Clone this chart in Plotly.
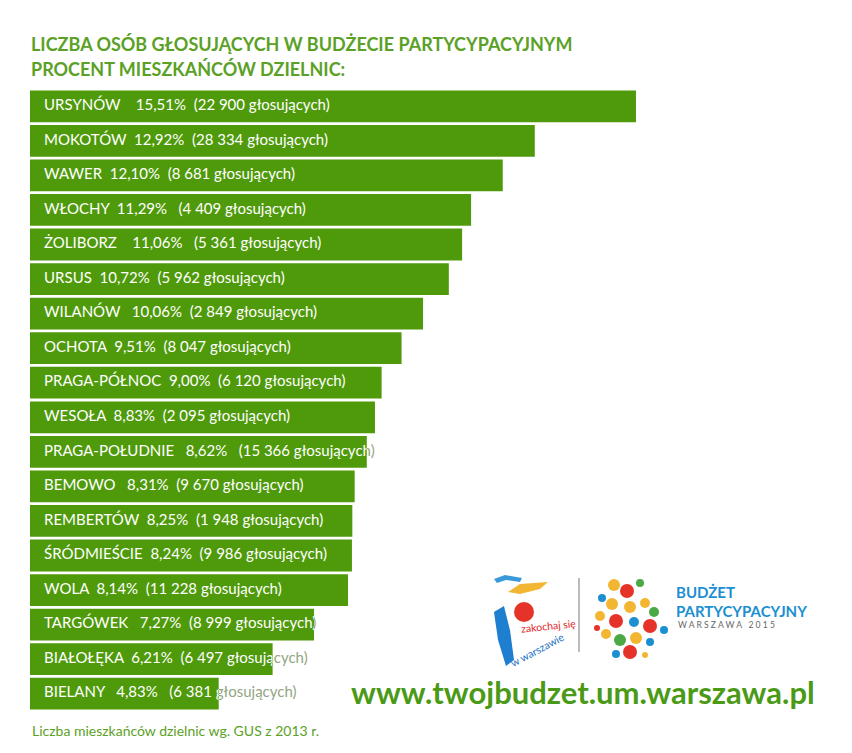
import plotly.graph_objects as go

districts = ["URSYNÓW", "MOKOTÓW", "WAWER", "WŁOCHY", "ŻOLIBORZ", "URSUS", "WILANÓW",
             "OCHOTA", "PRAGA-PÓŁNOC", "WESOŁA", "PRAGA-POŁUDNIE", "BEMOWO", "REMBERTÓW",
             "ŚRÓDMIEŚCIE", "WOLA", "TARGÓWEK", "BIAŁOŁĘKA", "BIELANY"]
percent = [15.51, 12.92, 12.10, 11.29, 11.06, 10.72, 10.06, 9.51, 9.00, 8.83, 8.62,
           8.31, 8.25, 8.24, 8.14, 7.27, 6.21, 4.83]
voters = [22900, 28334, 8681, 4409, 5361, 5962, 2849, 8047, 6120, 2095, 15366,
          9670, 1948, 9986, 11228, 8999, 6497, 6381]
gap_after_name = [4, 2, 2, 2, 4, 2, 3, 2, 2, 2, 3, 3, 2, 2, 2, 3, 2, 3]
gap_after_pct = [2, 2, 2, 3, 3, 2, 2, 2, 2, 2, 3, 2, 2, 2, 2, 2, 2, 3]

GREEN = "#4f9a0b"
TEXT_GREEN = "#5aa125"
OVER_TEXT = "#93a682"
FONT = "Lato"
NB = "\u00a0"


def fmt_int(v):
    return f"{v:,}".replace(",", NB)


labels = []
for d, p, v, g1, g2 in zip(districts, percent, voters, gap_after_name, gap_after_pct):
    ptxt = f"{p:.2f}".replace(".", ",") + "%"
    labels.append(f"{d}{NB * g1}{ptxt}{NB * g2}({fmt_int(v)} głosujących)")

n = len(districts)
ypos = list(range(n))
TEXT_X = 0.36
LABEL_SIZE = 15

# page has an 8px body margin: figure is drawn offset by (8, 8)
OFF = 8
W, H = 852 - OFF, 753 - OFF
ML, MR, MT, MB = 30 - OFF, 10, 89 - OFF, 42
px_per_unit = 39.07
xmax = (W - ML - MR) / px_per_unit

fig = go.Figure()

# gray text underneath (shows only where it runs past the bar)
fig.add_trace(go.Scatter(
    x=[TEXT_X] * n, y=ypos, mode="text", text=labels, textposition="middle right",
    textfont=dict(family=FONT, size=LABEL_SIZE, color=OVER_TEXT),
    hoverinfo="skip", showlegend=False, xaxis="x", yaxis="y", cliponaxis=False))

# bars on an overlay axis (drawn above the gray text)
fig.add_trace(go.Bar(
    x=percent, y=ypos, orientation="h", marker=dict(color=GREEN, line=dict(width=0)),
    hoverinfo="skip", showlegend=False, xaxis="x2", yaxis="y"))

layout_axes = {}
# white text per row, clipped to the bar's own extent
for i in range(n):
    ax = f"x{i + 3}"
    fig.add_trace(go.Scatter(
        x=[TEXT_X], y=[ypos[i]], mode="text", text=[labels[i]], textposition="middle right",
        textfont=dict(family=FONT, size=LABEL_SIZE, color="white"),
        hoverinfo="skip", showlegend=False, xaxis=ax, yaxis="y", cliponaxis=True))
    layout_axes[f"xaxis{i + 3}"] = dict(range=[0, percent[i]], domain=[0, percent[i] / xmax],
                                        visible=False, fixedrange=True, anchor="y")


def px2paper(px, py):
    return (px - OFF - ML) / (W - ML - MR), (H - MB - (py - OFF)) / (H - MT - MB)


annotations = []


def add_text(px, py, text, size, color, bold=False, xanchor="left", textangle=0):
    x, y = px2paper(px, py)
    annotations.append(dict(
        x=x, y=y, xref="paper", yref="paper", xanchor=xanchor, yanchor="middle",
        text=f"<b>{text}</b>" if bold else text, showarrow=False, textangle=textangle,
        font=dict(family=FONT, size=size, color=color)))


add_text(29, 44, "LICZBA OSÓB GŁOSUJĄCYCH W BUDŻECIE PARTYCYPACYJNYM", 18, TEXT_GREEN, bold=True)
add_text(29, 69, "PROCENT MIESZKAŃCÓW DZIELNIC:", 18, TEXT_GREEN, bold=True)
add_text(30, 730, "Liczba mieszkańców dzielnic wg. GUS z 2013 r.", 14, TEXT_GREEN)
add_text(349, 692, "www.twojbudzet.um.warszawa.pl", 31, "#4a9a16", bold=True)

# Budżet Partycypacyjny logo text
add_text(674, 592, "BUDŻET", 15, "#1b8fd2", bold=True)
add_text(674, 611, "PARTYCYPACYJNY", 15, "#1b8fd2", bold=True)
add_text(676, 625, NB.join("WARSZAWA") + NB * 3 + NB.join("2015"), 8.6, "#666666")

shapes = []


def circle(cx, cy, r, color):
    x0, y0 = px2paper(cx - r, cy + r)
    x1, y1 = px2paper(cx + r, cy - r)
    shapes.append(dict(type="circle", xref="paper", yref="paper", x0=x0, y0=y0, x1=x1, y1=y1,
                       fillcolor=color, line=dict(width=0)))


def path(points, color):
    pts = [px2paper(px, py) for px, py in points]
    d = "M " + " L ".join(f"{x:.4f},{y:.4f}" for x, y in pts) + " Z"
    shapes.append(dict(type="path", xref="paper", yref="paper", path=d,
                       fillcolor=color, line=dict(width=0)))


sx0, sy0 = px2paper(579, 578)
sx1, sy1 = px2paper(579, 652)
shapes.append(dict(type="line", xref="paper", yref="paper", x0=sx0, y0=sy0, x1=sx1, y1=sy1,
                   line=dict(color="#bbbbbb", width=2)))

gears = [(614, 585, 6, "#f2b632"), (627, 591, 7, "#e5332a"), (640, 583, 4, "#4aa845"),
         (602, 598, 4, "#1b8fd2"), (612, 604, 6, "#f2b632"), (630, 607, 6, "#f2b632"),
         (645, 603, 5, "#f2b632"), (654, 612, 5, "#4aa845"), (600, 616, 5, "#f2b632"),
         (616, 621, 7, "#e5332a"), (634, 622, 5, "#1b8fd2"), (650, 626, 7, "#e5332a"),
         (664, 630, 4, "#1b8fd2"), (606, 634, 5, "#f2b632"), (620, 640, 6, "#4aa845"),
         (636, 638, 6, "#f2b632"), (650, 642, 4, "#1b8fd2"), (630, 652, 7, "#e5332a"),
         (616, 654, 4, "#1b8fd2"), (597, 628, 3, "#e5332a"), (645, 655, 3, "#f2b632")]
for g in gears:
    circle(*g)

# zakochaj się w Warszawie logo (approximation)
path([(494, 579), (505, 575), (522, 578), (520, 582), (506, 580), (497, 583)], "#3a9ad9")
path([(508, 592), (520, 584), (548, 582), (540, 589), (520, 594)], "#f2b632")
circle(524, 612, 10, "#e5332a")
path([(494, 612), (504, 606), (510, 630), (514, 660), (506, 666), (498, 640)], "#1e7fd0")
add_text(548, 626, "zakochaj się", 10.5, "#e02626", xanchor="center", textangle=-6)
add_text(537, 650, "w warszawie", 10.5, "#1e6fc0", xanchor="center", textangle=-28)

fig.update_layout(
    width=W, height=H,
    margin=dict(l=ML, r=MR, t=MT, b=MB),
    paper_bgcolor="white", plot_bgcolor="rgba(0,0,0,0)",
    bargap=0.08,
    xaxis=dict(range=[0, xmax], visible=False, fixedrange=True),
    xaxis2=dict(range=[0, xmax], visible=False, overlaying="x", fixedrange=True),
    yaxis=dict(range=[n - 0.5, -0.5], visible=False, fixedrange=True),
    annotations=annotations,
    shapes=shapes,
    showlegend=False,
    **layout_axes,
)

fig.write_html("out.html")
